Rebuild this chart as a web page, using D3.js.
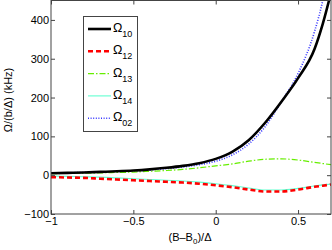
<!DOCTYPE html>
<html>
<head>
<meta charset="utf-8">
<script src="https://d3js.org/d3.v7.min.js"></script>
<style>
  body { margin: 0; background: #fff; }
  svg text { font-family: "Liberation Sans", Arial, sans-serif; }
</style>
</head>
<body>
<svg id="chart" width="332" height="250"></svg>
<script>
// detuning (B-B0)/Delta
var xs = [-1, -0.9, -0.8, -0.7, -0.6, -0.5, -0.4, -0.3, -0.2, -0.1, 0, 0.1, 0.2, 0.3, 0.4, 0.5, 0.6, 0.65, 0.7];
var omega10 = [5, 6, 7, 8.5, 10, 12, 15, 19, 24, 31, 42, 60, 90, 135, 190, 250, 325, 390, 470];
var omega12 = [-5, -6, -7, -9, -11, -13, -15, -17, -19, -22, -26, -31, -37, -42, -42, -37, -30, -27, -24];
var omega13 = [4, 4.5, 5, 6, 7, 8, 10, 12, 15, 19, 24, 29, 36, 41, 42, 39, 33, 30, 27];
var omega14 = [-2, -3, -4, -5, -7, -9, -11, -13, -15, -18, -22, -27, -33, -38, -38, -34, -28, -25, -23];
var omega02 = [5, 6, 7, 8, 9.5, 11, 13.5, 17, 21, 27, 36, 52, 80, 125, 190, 262, 370, 450, 560];
var xTicks = [-1, -0.5, 0, 0.5];
var yTicks = [-100, 0, 100, 200, 300, 400];

var series = [
  {name: "10", values: omega10, color: "#000", width: 2.6, dash: null},
  {name: "12", values: omega12, color: "#ff0000", width: 2.6, dash: "5,3"},
  {name: "13", values: omega13, color: "#66ee00", width: 1.2, dash: "6,2,1.5,2"},
  {name: "14", values: omega14, color: "#60ffd0", width: 1.1, dash: null},
  {name: "02", values: omega02, color: "#3333ff", width: 1.6, dash: "1,1.6"}
];

var svg = d3.select("#chart");
var mL = 51, mR = 331, mT = 0.5, mB = 214;

var x = d3.scaleLinear().domain([-1, 0.7]).range([mL, mR]);
var y = d3.scaleLinear().domain([-100, 450]).range([mB, mT]);

svg.append("clipPath").attr("id", "clip")
  .append("rect").attr("x", mL).attr("y", mT)
  .attr("width", mR - mL).attr("height", mB - mT);

var line = d3.line()
  .x(function(d, i) { return x(xs[i]); })
  .y(function(d) { return y(d); })
  .curve(d3.curveMonotoneX);

var plot = svg.append("g").attr("clip-path", "url(#clip)");
// draw in reverse so black sits on top
series.slice().reverse().forEach(function(s) {
  plot.append("path")
    .attr("d", line(s.values))
    .attr("fill", "none")
    .attr("stroke", s.color)
    .attr("stroke-width", s.width)
    .attr("stroke-dasharray", s.dash);
});

// axes, ticks inside
var fmt = function(d) { return d3.format("")(d).replace("-", "\u2212"); };
var xAxis = d3.axisBottom(x).tickValues(xTicks).tickSize(-4).tickPadding(3).tickFormat(fmt);
var yAxis = d3.axisLeft(y).tickValues(yTicks).tickSize(-4).tickPadding(2).tickFormat(fmt);

svg.append("g").attr("class", "ax").attr("transform", "translate(0," + mB + ")").call(xAxis);
svg.append("g").attr("class", "ax").attr("transform", "translate(" + mL + ",0)").call(yAxis);
svg.append("g").attr("transform", "translate(0," + mT + ")")
  .call(d3.axisTop(x).tickValues(xTicks).tickSize(-4).tickFormat(""));
svg.append("g").attr("transform", "translate(" + mR + ",0)")
  .call(d3.axisRight(y).tickValues(yTicks).tickSize(-4).tickFormat(""));

svg.selectAll(".domain").remove();
svg.selectAll(".tick line").attr("stroke", "#444");
svg.selectAll(".tick text").attr("font-size", 11).attr("fill", "#000")
  .attr("font-family", "Liberation Sans, Arial, sans-serif");

svg.append("rect").attr("x", mL).attr("y", mT)
  .attr("width", mR - mL).attr("height", mB - mT)
  .attr("fill", "none").attr("stroke", "#444").attr("stroke-width", 1);

// axis labels
var xl = svg.append("text").attr("x", 190).attr("y", 241).attr("font-size", 11)
  .attr("text-anchor", "middle");
xl.append("tspan").text("(B\u2013B");
xl.append("tspan").attr("font-size", 8).attr("dy", 3).text("0");
xl.append("tspan").attr("dy", -3).text(")/\u0394");

svg.append("text").attr("transform", "translate(12,100) rotate(-90)")
  .attr("font-size", 11).attr("text-anchor", "middle")
  .text("\u03a9/(b/\u0394) (kHz)");

// legend
var lg = svg.append("g");
lg.append("rect").attr("x", 83.5).attr("y", 16.5).attr("width", 54).attr("height", 115)
  .attr("fill", "#fff").attr("stroke", "#444").attr("stroke-width", 1);
series.forEach(function(s, i) {
  var ly = 29 + i * 22.3;
  lg.append("line").attr("x1", 88).attr("x2", 111).attr("y1", ly).attr("y2", ly)
    .attr("stroke", s.color).attr("stroke-width", s.width).attr("stroke-dasharray", s.dash);
  var t = lg.append("text").attr("x", 113).attr("y", ly + 3).attr("font-size", 12.5);
  t.append("tspan").text("\u03a9");
  t.append("tspan").attr("font-size", 9).attr("dy", 5).text(s.name);
});
</script>
</body>
</html>
